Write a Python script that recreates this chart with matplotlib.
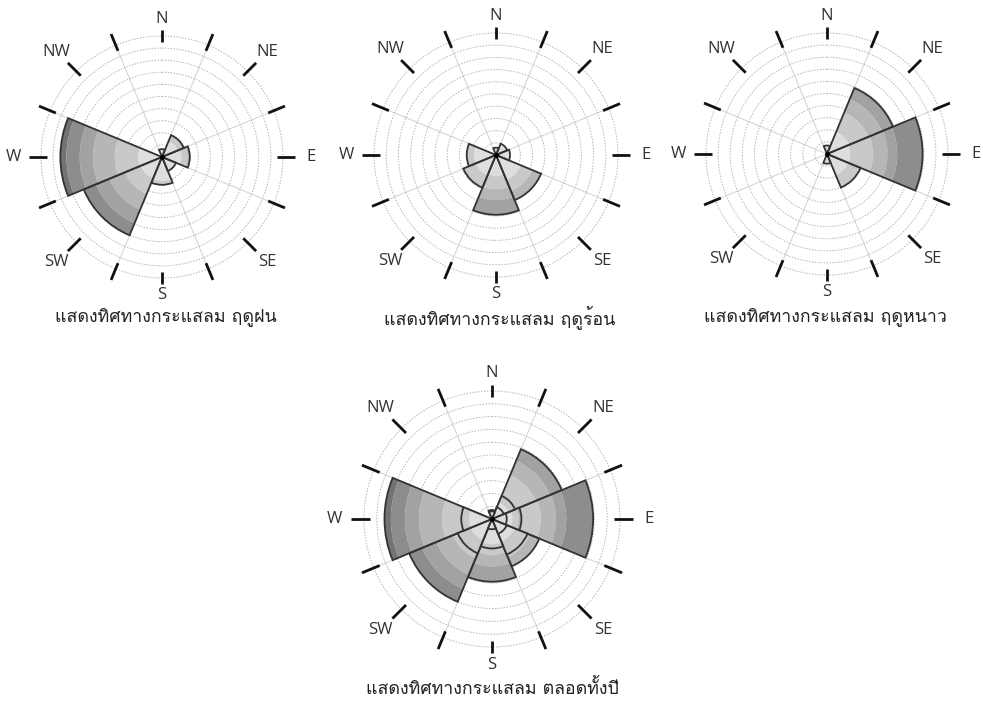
import numpy as np
import matplotlib
matplotlib.use("Agg")
import matplotlib.pyplot as plt
from matplotlib import font_manager
from matplotlib.ft2font import FT2Font

W_PX, H_PX = 983, 707

directions = ["N", "NE", "E", "SE", "S", "SW", "W", "NW"]
dir_angles = [0, 45, 90, 135, 180, 225, 270, 315]

# band lengths in grid-circle units, one row per speed class (light -> dark),
# columns follow `directions`
rainy = [
    [0.65, 1.40, 1.60, 1.25, 2.00, 1.90, 2.00, 0.0],
    [0.0,  0.55, 0.50, 0.0,  0.30, 1.40, 1.90, 0.0],
    [0.0,  0.0,  0.20, 0.0,  0.0,  1.40, 1.80, 0.0],
    [0.0,  0.0,  0.0,  0.0,  0.0,  1.20, 1.10, 0.0],
    [0.0,  0.0,  0.0,  0.0,  0.0,  1.10, 1.10, 0.0],
    [0.0,  0.0,  0.0,  0.0,  0.0,  0.0,  0.50, 0.0],
]
summer = [
    [0.60, 1.00, 1.15, 2.20, 1.70, 1.80, 1.80, 0.0],
    [0.0,  0.0,  0.0,  1.00, 1.10, 1.10, 0.60, 0.0],
    [0.0,  0.0,  0.0,  0.80, 0.90, 0.0,  0.0,  0.0],
    [0.0,  0.0,  0.0,  0.0,  1.20, 0.0,  0.0,  0.0],
]
winter = [
    [0.70, 2.00, 1.90, 1.90, 0.80, 0.0, 0.0, 0.0],
    [0.0,  1.70, 1.90, 1.10, 0.0,  0.0, 0.0, 0.0],
    [0.0,  1.20, 1.20, 0.0,  0.0,  0.0, 0.0, 0.0],
    [0.0,  1.00, 0.80, 0.0,  0.0,  0.0, 0.0, 0.0],
    [0.0,  0.0,  2.10, 0.0,  0.0,  0.0, 0.0, 0.0],
]

class_colors = ["#dedede", "#c9c9c9", "#b6b6b6", "#a2a2a2", "#8d8d8d", "#737373"]

captions = [
    "แสดงทิศทางกระแสลม ฤดูฝน",
    "แสดงทิศทางกระแสลม ฤดูร้อน",
    "แสดงทิศทางกระแสลม ฤดูหนาว",
    "แสดงทิศทางกระแสลม ตลอดทั้งปี",
]


def thai_font():
    for f in font_manager.fontManager.ttflist:
        try:
            if 0x0E2A in FT2Font(f.fname).get_charmap():
                return f.name
        except Exception:
            pass
    return "DejaVu Sans"


def draw_rose(ax, layers):
    width = np.deg2rad(45)
    theta = np.deg2rad(dir_angles)
    totals = [np.sum(np.array(l), axis=0) for l in layers]
    for j, th in enumerate(theta):
        # larger wedges first, smaller ones drawn on top
        order = sorted(range(len(layers)), key=lambda k: -totals[k][j])
        for rank, k in enumerate(order):
            if totals[k][j] <= 0:
                continue
            z = 3 + rank * 2
            bottom = 0.0
            for c, row in enumerate(layers[k]):
                h = row[j]
                if h <= 0:
                    continue
                ax.bar(th, h, width=width, bottom=bottom, color=class_colors[c],
                       edgecolor="none", linewidth=0, zorder=z)
                bottom += h
            ax.bar(th, totals[k][j], width=width, bottom=0, fill=False,
                   edgecolor="#333333", linewidth=1.3, zorder=z + 0.5)
    ax.plot(0, 0, "o", ms=2.5, color="black", zorder=30)

    # compass ticks and labels outside the outer ring
    for a in np.arange(0, 360, 22.5):
        r1 = 10.5 if a in (0, 180) else 11.0
        ax.plot([np.deg2rad(a)] * 2, [9.5, r1], color="#111111", lw=2,
                solid_capstyle="butt", clip_on=False, zorder=25)
    for name, a in zip(directions, dir_angles):
        r = 11.4 if name in ("N", "S") else 12.3
        ax.text(np.deg2rad(a), r, name, ha="center", va="center",
                fontsize=12, color="#333333", family="Open Sans")


def setup_polar(fig, cx, cy, R):
    ra = 10.6 * R / 10
    ax = fig.add_axes([(cx - ra) / W_PX, (H_PX - cy - ra) / H_PX,
                       2 * ra / W_PX, 2 * ra / H_PX], projection="polar")
    ax.set_theta_zero_location("N")
    ax.set_theta_direction(-1)
    ax.set_ylim(0, 10.6)
    ax.set_yticks(range(1, 11))
    ax.set_yticklabels([])
    ax.set_xticks(np.deg2rad(np.arange(22.5, 360, 45)))
    ax.set_xticklabels([])
    ax.tick_params(length=0)
    ax.yaxis.grid(True, color="#b4b4b4", lw=0.7, ls=(0, (1.5, 1.5)))
    ax.xaxis.grid(True, color="#d6d6d6", lw=0.8, ls="-")
    ax.spines["polar"].set_visible(False)
    ax.set_axisbelow(True)
    ax.patch.set_alpha(0)
    return ax


fig = plt.figure(figsize=(W_PX / 100, H_PX / 100), dpi=100)
thai = thai_font()

# (layers, centre x, centre y, outer radius) in pixels
panels = [
    ([rainy], 162, 157, 121),
    ([summer], 496, 155, 122),
    ([winter], 827, 154, 121),
    ([rainy, summer, winter], 492, 519, 128),
]
caption_pos = [(166, 317), (500, 317), (825, 317), (492, 688)]

for (layers, cx, cy, R), cap, (tx, ty) in zip(panels, captions, caption_pos):
    ax = setup_polar(fig, cx, cy, R)
    draw_rose(ax, layers)
    fig.text(tx / W_PX, 1 - ty / H_PX, cap, ha="center", va="center",
             fontsize=12.8, color="#222222", family=[thai, "DejaVu Sans"])

fig.savefig("out.png", dpi=100)
